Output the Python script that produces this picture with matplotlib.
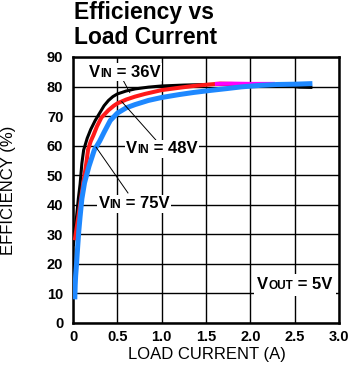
import matplotlib
matplotlib.use('Agg')
import matplotlib.pyplot as plt
from matplotlib.offsetbox import TextArea, HPacker, AnnotationBbox

plt.rcParams['font.family'] = ['Liberation Sans', 'DejaVu Sans']

# curves (load current A, efficiency %)
i_36 = [0.003, 0.02, 0.04, 0.06, 0.08, 0.1, 0.12, 0.16, 0.2, 0.25, 0.3, 0.35, 0.4, 0.45, 0.5,
        0.6, 0.7, 0.85, 1.0, 1.25, 1.5, 1.8, 2.1, 2.4, 2.55, 2.7]
e_36 = [26, 31, 36, 42, 47, 54, 58.5, 62.5, 65.5, 68.5, 71, 73.5, 75.3, 76.6, 77.5,
        78.5, 79.2, 79.8, 80.2, 80.5, 80.7, 80.7, 80.6, 80.4, 79.8, 79.7]

i_48 = [0.02, 0.04, 0.06, 0.09, 0.116, 0.15, 0.17, 0.2, 0.23, 0.27, 0.32, 0.4, 0.46, 0.5,
        0.6, 0.7, 0.81, 1.0, 1.2, 1.36, 1.5, 1.66, 1.78, 1.86]
e_48 = [28, 32, 36, 42, 47.4, 54, 58.7, 61.5, 63.5, 66.5, 69.5, 72, 73.5, 74.3,
        75.6, 76.6, 77.5, 78.8, 79.6, 80.2, 80.6, 81.0, 80.9, 80.8]

i_48b = [1.6, 1.8, 2.0, 2.28]
e_48b = [80.9, 81.0, 80.9, 80.9]

i_75 = [0.02, 0.025, 0.03, 0.04, 0.05, 0.065, 0.08, 0.1, 0.13, 0.18, 0.24, 0.3, 0.35, 0.42,
        0.5, 0.6, 0.7, 0.85, 1.0, 1.2, 1.36, 1.55, 1.73, 1.9, 2.11, 2.3, 2.5, 2.7]
e_75 = [8, 13, 16, 20, 24.6, 31, 36, 42, 47.4, 53, 58.5, 61.5, 64.5, 68.5,
        71, 72.8, 73.9, 75.3, 76.3, 77.3, 78, 78.7, 79.3, 79.9, 80.4, 80.7, 80.8, 81.0]

x_ticks = [0, 0.5, 1.0, 1.5, 2.0, 2.5, 3.0]
x_labels = ['0', '0.5', '1.0', '1.5', '2.0', '2.5', '3.0']
y_ticks = [0, 10, 20, 30, 40, 50, 60, 70, 80, 90]

fig = plt.figure(figsize=(3.57, 3.76), dpi=100)
ax = fig.add_axes([73/357, 1 - 323/376, 266/357, 266/376])

ax.plot(i_36, e_36, color='black', lw=2.2, solid_capstyle='butt', zorder=3)
ax.plot(i_48, e_48, color='#ff1a1a', lw=2.9, solid_capstyle='butt', zorder=4)
ax.plot(i_48b, e_48b, color='#ff00ff', lw=2.9, solid_capstyle='butt', zorder=4)
ax.plot(i_75, e_75, color='#1e88ff', lw=3.6, solid_capstyle='butt', zorder=5)

ax.set_xlim(0, 3)
ax.set_ylim(0, 90)
ax.set_xticks(x_ticks)
ax.set_xticklabels(x_labels)
ax.set_yticks(y_ticks)
ax.tick_params(length=0, labelsize=10.5)
ax.tick_params(axis='x', pad=5)
ax.tick_params(axis='y', pad=7)
for lab in ax.get_xticklabels() + ax.get_yticklabels():
    lab.set_fontweight('bold')
ax.grid(color='black', lw=1.0)
ax.set_axisbelow(True)
for s in ax.spines.values():
    s.set_linewidth(1.8)

fig.text(74/357, 1 - 1/376, 'Efficiency vs\nLoad Current', ha='left', va='top',
         fontsize=16.5, fontweight='bold', linespacing=1.12)
fig.text(207/357, 1 - 354/376, 'LOAD CURRENT (A)', ha='center', va='center', fontsize=12)
fig.text(9/357, 1 - 190/376, 'EFFICIENCY (%)', ha='center', va='center', fontsize=12,
         rotation=90)


def vlabel(sub, rest, xy, ypad=0.1):
    parts = [TextArea('V', textprops=dict(size=12, weight='bold')),
             TextArea(sub, textprops=dict(size=8.5, weight='bold')),
             TextArea(rest, textprops=dict(size=12, weight='bold'))]
    box = HPacker(children=parts, align='baseline', pad=0, sep=0)
    ab = AnnotationBbox(box, xy, xycoords='data', frameon=True, pad=ypad,
                        bboxprops=dict(fc='white', ec='none'), zorder=6)
    ax.add_artist(ab)


# leader lines
ax.plot([0.55, 0.64], [83, 78], color='black', lw=0.7, zorder=2)
ax.plot([0.55, 0.944], [74.9, 61.6], color='black', lw=0.7, zorder=6)
ax.plot([0.26, 0.62], [59.5, 44], color='black', lw=0.7, zorder=6)

vlabel('IN', ' = 36V', (0.586, 84.9))
vlabel('IN', ' = 48V', (1.0, 58.9))
vlabel('IN', ' = 75V', (0.69, 40.3))
vlabel('OUT', ' = 5V', (2.5, 12.9), ypad=0.25)

plt.savefig('out.png', dpi=100)
